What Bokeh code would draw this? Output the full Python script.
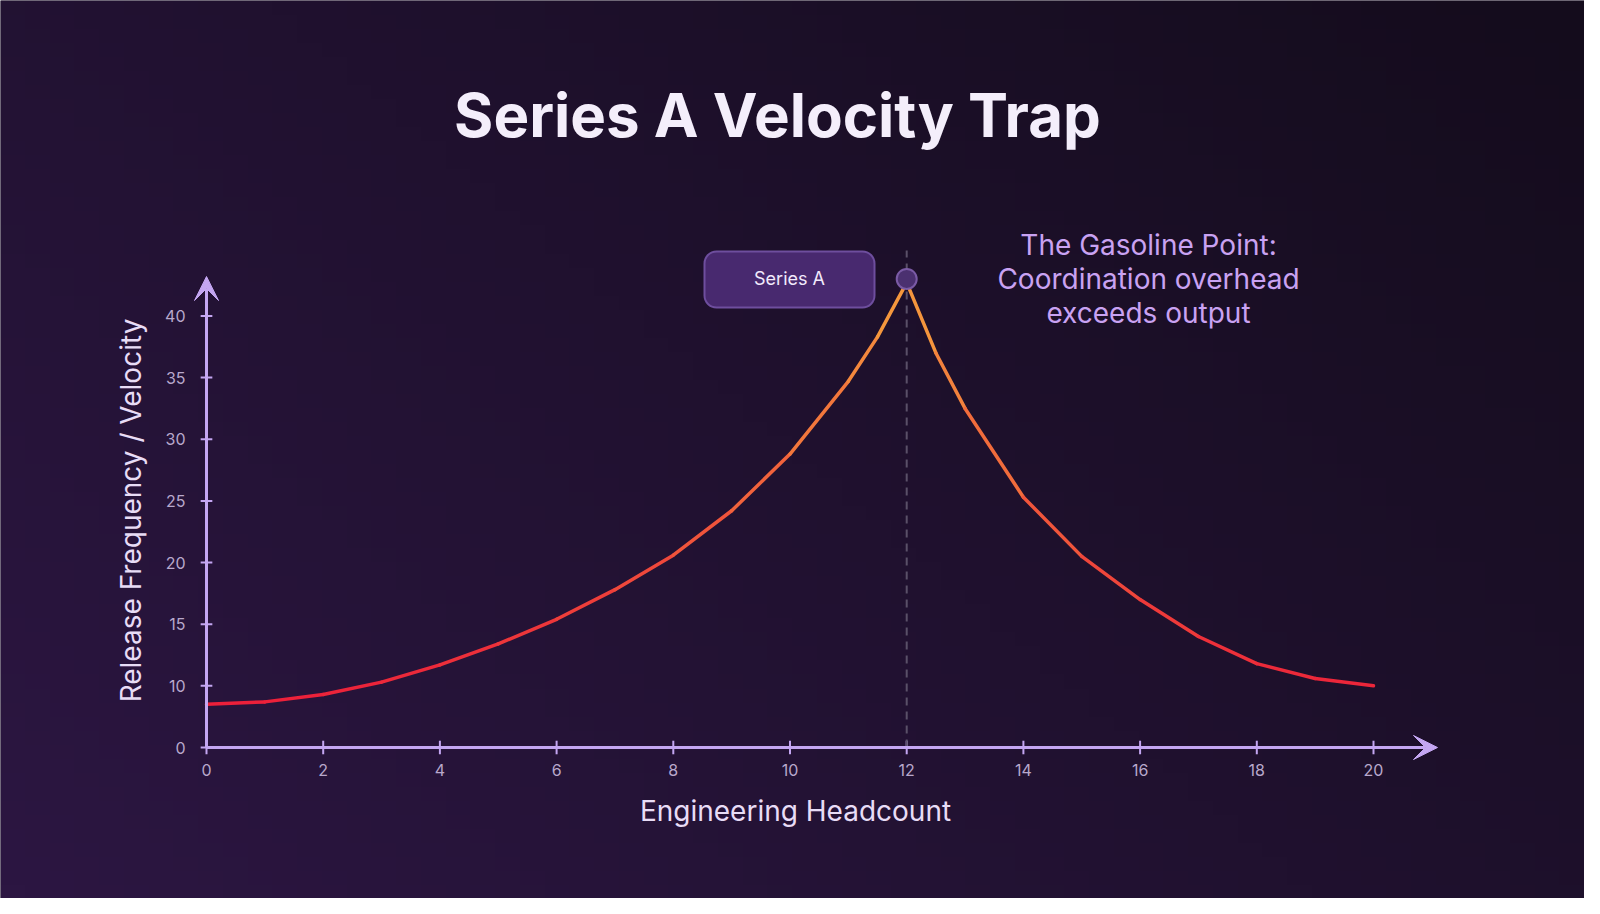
import numpy as np
from bokeh.plotting import figure
from bokeh.models import Label, Arrow, VeeHead, Range1d
from bokeh.core.properties import value
from bokeh.embed import file_html
from bokeh.resources import INLINE

xs = [0, 1, 2, 3, 4, 5, 6, 7, 8, 9, 10, 11, 11.5, 12, 12.5, 13, 14, 15, 16, 17, 18, 19, 20]
ys = [8.5, 8.7, 9.3, 10.3, 11.7, 13.4, 15.4, 17.8, 20.6, 24.2, 28.8, 34.7, 38.3, 42.7, 37.0, 32.5, 25.3, 20.5, 17.0, 14.0, 11.8, 10.6, 10.0]
x_ticks = [0, 2, 4, 6, 8, 10, 12, 14, 16, 18, 20]
y_ticks = [5, 10, 15, 20, 25, 30, 35, 40]
y_tick_labels = ["0", "10", "15", "20", "25", "30", "35", "40"]
peak_x, peak_y = 12, 43.0

LAV = "#c4a6f2"
W, H = 1584, 898
SX, SY = 58.35, 12.33  # px per unit
def px(x): return (x - 214) / SX
def py(y): return 5 + (755 - y) / SY

x0, x1 = px(8), px(8 + W)
y0, y1 = py(8 + H), py(8)
p = figure(width=W, height=H, output_backend="svg", toolbar_location=None,
           x_range=Range1d(x0, x1), y_range=Range1d(y0, y1), min_border=0)
p.axis.visible = False
p.grid.visible = False
p.outline_line_color = None
p.background_fill_color = "#1b1026"
p.border_fill_color = "#1b1026"

# background gradient
n = 64
gx, gy = np.meshgrid(np.linspace(0, 1, n), np.linspace(1, 0, n))
t = np.clip((gx * 0.6 + (1 - gy) * 0.4), 0, 1)
c0 = np.array([44, 22, 66]); c1 = np.array([20, 12, 28])
img = np.zeros((n, n), dtype=np.uint32)
v = img.view(dtype=np.uint8).reshape((n, n, 4))
for k in range(3):
    v[:, :, k] = (c0[k] + (c1[k] - c0[k]) * t).astype(np.uint8)
v[:, :, 3] = 255
p.image_rgba(image=[img], x=x0, y=y0, dw=x1 - x0, dh=y1 - y0)

# axes
xe, ye = px(1445), py(284)
p.add_layout(Arrow(end=VeeHead(size=24, fill_color=LAV, line_color=LAV, line_width=1), x_start=0, y_start=5,
                   x_end=xe, y_end=5, line_color=LAV, line_width=3))
p.add_layout(Arrow(end=VeeHead(size=24, fill_color=LAV, line_color=LAV, line_width=1), x_start=0, y_start=5,
                   x_end=0, y_end=ye, line_color=LAV, line_width=3))
p.segment(x0=x_ticks, y0=[5 - 0.55] * len(x_ticks), x1=x_ticks, y1=[5 + 0.55] * len(x_ticks),
          line_color=LAV, line_width=2)
p.segment(x0=[-0.1] * len(y_ticks), y0=y_ticks, x1=[0.1] * len(y_ticks), y1=y_ticks, line_color=LAV, line_width=2)
p.text(x=x_ticks, y=[py(777)] * len(x_ticks), text=[str(v_) for v_ in x_ticks], text_align="center",
       text_baseline="middle", text_color="#b8a8cc", text_font=value("Inter"), text_font_size="16px")
p.text(x=[px(193)] * len(y_ticks), y=y_ticks, text=y_tick_labels, text_align="right",
       text_baseline="middle", text_color="#b8a8cc", text_font=value("Inter"), text_font_size="16px")
p.text(x=[px(803)], y=[py(818)], text=["Engineering Headcount"], text_align="center", text_baseline="middle",
       text_color="#e8dcf6", text_font=value("Inter"), text_font_size="28px")
p.text(x=[px(138)], y=[py(518)], text=["Release Frequency / Velocity"], angle=np.pi / 2, text_align="center",
       text_baseline="middle", text_color="#e8dcf6", text_font=value("Inter"), text_font_size="28px")

p.line([peak_x, peak_x], [5, py(258)], line_color="#5a5068", line_width=2, line_dash="8 6")

def col(y):
    t_ = max(0.0, min(1.0, (y - 8.5) / (42.7 - 8.5)))
    a0 = (236, 32, 58); a1 = (246, 160, 62)
    return "#%02x%02x%02x" % tuple(int(a + (b - a) * t_) for a, b in zip(a0, a1))

sx, sy, sc = [], [], []
for i in range(len(xs) - 1):
    sx.append([xs[i], xs[i + 1]]); sy.append([ys[i], ys[i + 1]])
    sc.append(col((ys[i] + ys[i + 1]) / 2))
p.multi_line(sx, sy, line_color=sc, line_width=3.5, line_cap="round", line_join="round")

p.scatter([peak_x], [peak_y], size=20, fill_color="#4b3070", line_color="#7a5aa5", line_width=2)

# Series A box
p.quad(left=[px(712)], right=[px(882)], bottom=[py(315)], top=[py(259)], fill_color="#48296f",
       line_color="#6e4e9e", line_width=2, border_radius=12)
p.text(x=[px(797)], y=[peak_y], text=["Series A"], text_align="center", text_baseline="middle",
       text_color="#f2eafc", text_font=value("Inter"), text_font_size="18px")

ann = ["The Gasoline Point:", "Coordination overhead", "exceeds output"]
p.text(x=[px(1156)] * 3, y=[py(252 + 34 * i) for i in range(3)], text=ann, text_align="center",
       text_baseline="middle", text_color="#c9a2f2", text_font=value("Inter"), text_font_size="28px")

p.text(x=[px(785)], y=[py(122)], text=["Series A Velocity Trap"], text_align="center", text_baseline="middle",
       text_color="#f4eefb", text_font=value("Inter"), text_font_style="bold", text_font_size="60px")

open("out.html", "w").write(file_html(p, INLINE))
